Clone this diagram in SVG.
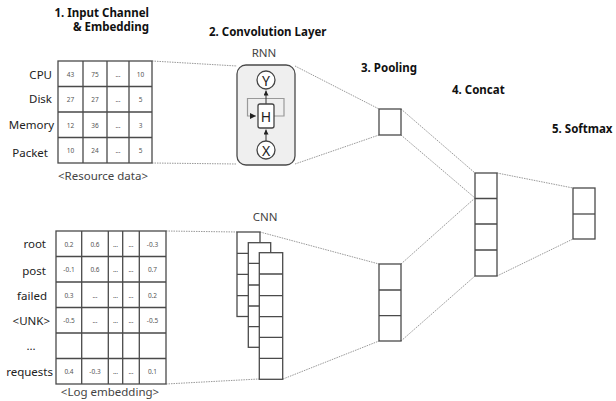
<svg xmlns="http://www.w3.org/2000/svg" width="616" height="401" viewBox="0 0 616 401">
  <defs>
    <style>
      .title { font-family: "Noto Sans", "Open Sans", sans-serif; font-weight: bold; font-size: 11.5px; fill: #111; }
      .lbl { font-family: "Noto Sans", "Open Sans", sans-serif; font-size: 11.5px; fill: #222; }
      .cap { font-family: "Noto Sans", "Open Sans", sans-serif; font-size: 11.5px; fill: #444; }
      .num { font-family: "Noto Sans", "Open Sans", sans-serif; font-size: 6.5px; fill: #555; text-anchor: middle; dominant-baseline: central; }
      .grid { fill: #fff; stroke: #4a4a4a; stroke-width: 1.3; }
      .gl { stroke: #4a4a4a; stroke-width: 1.3; fill: none; }
      .cell { fill: #fff; stroke: #4a4a4a; stroke-width: 1.3; }
      .dot { stroke: #999; stroke-width: 1; stroke-dasharray: 1.5 1; fill: none; }
      .sym { font-family: "Noto Sans", "Open Sans", sans-serif; font-size: 14px; fill: #222; text-anchor: middle; dominant-baseline: central; }
    </style>
    <marker id="ah" viewBox="0 0 6 6" refX="6" refY="3" markerWidth="5" markerHeight="5" orient="auto">
      <path d="M0,0 L6,3 L0,6 z" fill="#222"/>
    </marker>
  </defs>
  <rect width="616" height="401" fill="#fff"/>

  <!-- stage titles -->
  <g id="titles">
    <text class="title" x="149" y="17" text-anchor="end">1. Input Channel</text>
    <text class="title" x="149" y="31" text-anchor="end">&amp; Embedding</text>
    <text class="title" x="209" y="36">2. Convolution Layer</text>
    <text class="title" x="361" y="72">3. Pooling</text>
    <text class="title" x="452" y="94">4. Concat</text>
    <text class="title" x="552" y="133">5. Softmax</text>
  </g>

  <!-- connectors -->
  <g id="connectors">
    <line class="dot" x1="152" y1="61" x2="237" y2="66"/>
    <line class="dot" x1="152" y1="163" x2="237" y2="164"/>
    <line class="dot" x1="295" y1="66" x2="379" y2="109"/>
    <line class="dot" x1="295" y1="164" x2="379" y2="135"/>
    <line class="dot" x1="166" y1="231" x2="237" y2="232"/>
    <line class="dot" x1="166" y1="384" x2="259" y2="379"/>
    <line class="dot" x1="260" y1="232" x2="379" y2="264"/>
    <line class="dot" x1="283" y1="379" x2="379" y2="341"/>
    <line class="dot" x1="401" y1="109" x2="475" y2="173"/>
    <line class="dot" x1="401" y1="135" x2="475" y2="198"/>
    <line class="dot" x1="401" y1="264" x2="475" y2="198"/>
    <line class="dot" x1="401" y1="341" x2="475" y2="276"/>
    <line class="dot" x1="497" y1="173" x2="573" y2="188"/>
    <line class="dot" x1="497" y1="276" x2="573" y2="239"/>
  </g>

  <!-- resource data table -->
  <g id="resource-data">
    <rect class="grid" x="58" y="61" width="94" height="102"/>
    <path class="gl" d="M83,61V163M107,61V163M129,61V163M58,86.5H152M58,112H152M58,137.5H152"/>
    <text class="lbl" x="52" y="79" text-anchor="end">CPU</text>
    <text class="lbl" x="52" y="103" text-anchor="end">Disk</text>
    <text class="lbl" x="54" y="129" text-anchor="end">Memory</text>
    <text class="lbl" x="48" y="157" text-anchor="end">Packet</text>
    <g>
      <text class="num" x="70.5" y="74">43</text><text class="num" x="95" y="74">75</text><text class="num" x="118" y="74">...</text><text class="num" x="140.5" y="74">10</text>
      <text class="num" x="70.5" y="99.5">27</text><text class="num" x="95" y="99.5">27</text><text class="num" x="118" y="99.5">...</text><text class="num" x="140.5" y="99.5">5</text>
      <text class="num" x="70.5" y="125">12</text><text class="num" x="95" y="125">36</text><text class="num" x="118" y="125">...</text><text class="num" x="140.5" y="125">3</text>
      <text class="num" x="70.5" y="150.5">10</text><text class="num" x="95" y="150.5">24</text><text class="num" x="118" y="150.5">...</text><text class="num" x="140.5" y="150.5">5</text>
    </g>
    <text class="cap" x="103" y="180" text-anchor="middle">&lt;Resource data&gt;</text>
  </g>

  <!-- log embedding table -->
  <g id="log-embedding">
    <rect class="grid" x="56" y="231" width="110" height="153"/>
    <path class="gl" d="M81.7,231V384M108.3,231V384M122.7,231V384M139.3,231V384M56,256.5H166M56,282H166M56,307.5H166M56,333H166M56,358.5H166"/>
    <text class="lbl" x="46" y="248" text-anchor="end">root</text>
    <text class="lbl" x="46" y="274.5" text-anchor="end">post</text>
    <text class="lbl" x="47" y="299.5" text-anchor="end">failed</text>
    <text class="lbl" x="50" y="324.5" text-anchor="end">&lt;UNK&gt;</text>
    <text class="lbl" x="31" y="350" text-anchor="middle">...</text>
    <text class="lbl" x="53" y="375.5" text-anchor="end">requests</text>
    <g>
      <text class="num" x="69" y="244">0.2</text><text class="num" x="95" y="244">0.6</text><text class="num" x="115.5" y="244">...</text><text class="num" x="131" y="244">...</text><text class="num" x="152.5" y="244">-0.3</text>
      <text class="num" x="69" y="269.5">-0.1</text><text class="num" x="95" y="269.5">0.6</text><text class="num" x="115.5" y="269.5">...</text><text class="num" x="131" y="269.5">...</text><text class="num" x="152.5" y="269.5">0.7</text>
      <text class="num" x="69" y="295">0.3</text><text class="num" x="95" y="295">...</text><text class="num" x="115.5" y="295">...</text><text class="num" x="131" y="295">...</text><text class="num" x="152.5" y="295">0.2</text>
      <text class="num" x="69" y="320">-0.5</text><text class="num" x="95" y="320">...</text><text class="num" x="115.5" y="320">...</text><text class="num" x="131" y="320">...</text><text class="num" x="152.5" y="320">-0.5</text>
      <text class="num" x="69" y="371">0.4</text><text class="num" x="95" y="371">-0.3</text><text class="num" x="115.5" y="371">...</text><text class="num" x="131" y="371">...</text><text class="num" x="152.5" y="371">0.1</text>
    </g>
    <text class="cap" x="110" y="396" text-anchor="middle">&lt;Log embedding&gt;</text>
  </g>

  <!-- RNN cell -->
  <g id="rnn">
    <text class="cap" x="264" y="57" text-anchor="middle">RNN</text>
    <rect x="237" y="65" width="58" height="100" rx="9" fill="#efefef" stroke="#4a4a4a" stroke-width="1.3"/>
    <path d="M274,116H284V98.5H247.5V116H256" fill="none" stroke="#999" stroke-width="1.2" marker-end="url(#ah)"/>
    <line x1="266" y1="141" x2="266" y2="129.5" stroke="#333" stroke-width="1" marker-end="url(#ah)"/>
    <line x1="266" y1="104" x2="266" y2="90.5" stroke="#333" stroke-width="1" marker-end="url(#ah)"/>
    <circle cx="266" cy="80" r="9" fill="#fff" stroke="#444" stroke-width="1.3"/>
    <text class="sym" x="266" y="80.5">Y</text>
    <rect x="258" y="104" width="16" height="24" rx="2" fill="#fff" stroke="#444" stroke-width="1.3"/>
    <text class="sym" x="266" y="116.5">H</text>
    <circle cx="266" cy="150" r="9" fill="#fff" stroke="#444" stroke-width="1.3"/>
    <text class="sym" x="266" y="150.5">X</text>
  </g>

  <!-- CNN feature maps -->
  <g id="cnn">
    <text class="cap" x="265" y="221" text-anchor="middle">CNN</text>
    <rect class="cell" x="237" y="232" width="23" height="84.5"/>
    <path class="gl" d="M237,253.3H260M237,274.3H260M237,295.7H260"/>
    <rect class="cell" x="248.3" y="242.7" width="22.4" height="104.6"/>
    <path class="gl" d="M248.3,263.3H270.7M248.3,285H270.7M248.3,306H270.7M248.3,326.7H270.7"/>
    <rect class="cell" x="259.3" y="252.7" width="23.4" height="126.6"/>
    <path class="gl" d="M259.3,274H282.7M259.3,295.7H282.7M259.3,316.7H282.7M259.3,337.3H282.7M259.3,358.3H282.7"/>
  </g>

  <!-- pooling outputs -->
  <g id="pool-rnn">
    <rect class="cell" x="379" y="109" width="22" height="26"/>
  </g>
  <g id="pool-cnn">
    <rect class="cell" x="379" y="264" width="22" height="77"/>
    <path class="gl" d="M379,290H401M379,315.7H401"/>
  </g>

  <!-- concatenated vector -->
  <g id="concat">
    <rect class="cell" x="475" y="173" width="22" height="103"/>
    <path class="gl" d="M475,198.5H497M475,224H497M475,250H497"/>
  </g>

  <!-- softmax output -->
  <g id="softmax">
    <rect class="cell" x="573" y="188" width="22" height="51"/>
    <path class="gl" d="M573,214H595"/>
  </g>
</svg>
